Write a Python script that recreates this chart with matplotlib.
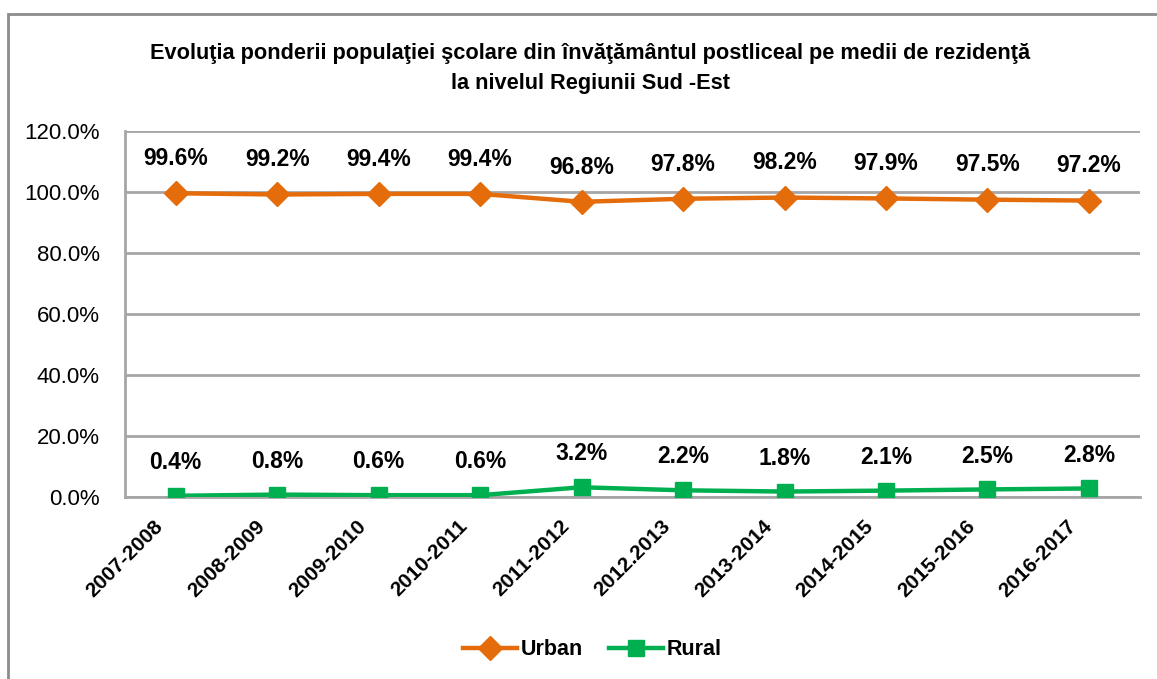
import matplotlib.pyplot as plt
import matplotlib.transforms as mtransforms
from matplotlib.patches import Rectangle
from matplotlib.ticker import FuncFormatter

plt.rcParams['font.family'] = ['Liberation Sans', 'DejaVu Sans']

# Date
ani = ["2007-2008", "2008-2009", "2009-2010", "2010-2011", "2011-2012",
       "2012.2013", "2013-2014", "2014-2015", "2015-2016", "2016-2017"]
urban = [99.6, 99.2, 99.4, 99.4, 96.8, 97.8, 98.2, 97.9, 97.5, 97.2]
rural = [0.4, 0.8, 0.6, 0.6, 3.2, 2.2, 1.8, 2.1, 2.5, 2.8]

titlu = ("Evoluţia ponderii populaţiei şcolare din învăţământul postliceal pe medii de rezidenţă\n"
         "la nivelul Regiunii Sud -Est")

orange = "#E46C0A"
green = "#00B050"
grid_col = "#A6A6A6"

fig = plt.figure(figsize=(11.57, 6.79), dpi=100)
ax = fig.add_axes([0.108, 0.268, 0.877, 0.539])

x = list(range(len(ani)))
ax.plot(x, urban, color=orange, lw=3.2, marker="D", ms=12, mec=orange, label="Urban", zorder=3)
ax.plot(x, rural, color=green, lw=3.2, marker="s", ms=12, mec=green, label="Rural", zorder=3)

for i in x:
    ax.annotate(f"{urban[i]:.1f}%", (i, urban[i]), xytext=(0, 25), textcoords="offset points",
                ha="center", va="center", fontsize=16.5, fontweight="bold")
    ax.annotate(f"{rural[i]:.1f}%", (i, rural[i]), xytext=(0, 24), textcoords="offset points",
                ha="center", va="center", fontsize=16.5, fontweight="bold")

ax.set_xlim(-0.5, len(ani) - 0.5)
ax.set_ylim(0, 120)
ax.set_yticks(range(0, 121, 20))
ax.yaxis.set_major_formatter(FuncFormatter(lambda v, p: f"{v:.1f}%"))
ax.set_xticks(x)
ax.set_xticklabels(ani, rotation=45, ha="right", rotation_mode="anchor",
                   fontsize=15, fontweight="bold")
ax.tick_params(axis="y", labelsize=16, length=0, pad=18)
ax.tick_params(axis="x", length=0, pad=14)

# muta etichetele axei x putin spre stanga
shift = mtransforms.ScaledTranslation(-22 / 100, 0, fig.dpi_scale_trans)
for lbl in ax.get_xticklabels():
    lbl.set_transform(lbl.get_transform() + shift)

ax.grid(axis="y", color=grid_col, lw=2)
ax.set_axisbelow(True)
for s in ["top", "right"]:
    ax.spines[s].set_visible(False)
for s in ["left", "bottom"]:
    ax.spines[s].set_color(grid_col)
    ax.spines[s].set_linewidth(2)

fig.text(0.51, 0.899, titlu, ha="center", va="center", fontsize=15.7, fontweight="bold",
         linespacing=1.6)

fig.legend(loc="center", bbox_to_anchor=(0.512, 0.043), ncol=2, frameon=False,
           prop={"weight": "bold", "size": 15.5}, handlelength=2.5,
           handletextpad=0.2, columnspacing=1.2)

fig.patches.append(Rectangle((0.007, -0.05), 1.1, 1.029, transform=fig.transFigure,
                             fill=False, edgecolor="#8C8C8C", lw=2))

fig.savefig("out.png", dpi=100)
